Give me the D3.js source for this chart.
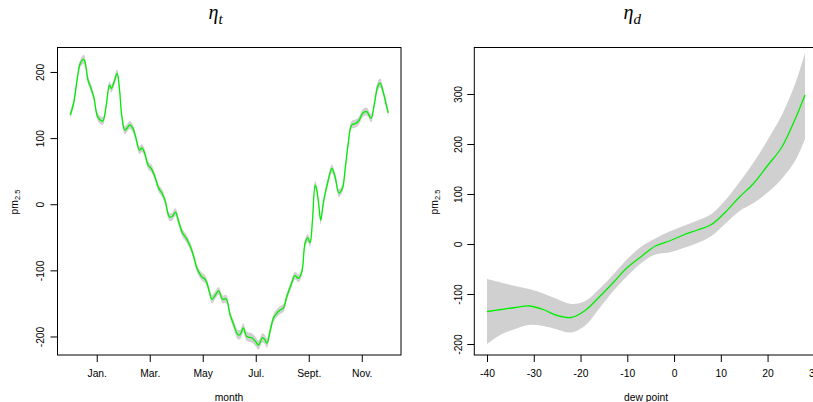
<!DOCTYPE html>
<html>
<head>
<meta charset="utf-8">
<script src="https://cdn.jsdelivr.net/npm/d3@7/dist/d3.min.js"></script>
<style>
  html, body { margin: 0; padding: 0; background: #fff; }
  svg { display: block; }
  .tick text, .lab { font-family: "Liberation Sans", Arial, sans-serif; font-size: 10.3px; fill: #000; }
  .ttl { font-family: "Liberation Serif", "DejaVu Serif", serif; font-style: italic; fill: #000; }
</style>
</head>
<body>
<svg id="chart" width="813" height="402"></svg>
<script>
// ---- seasonal effect (month of year) ----
const monthPos = [0.00,0.13,0.26,0.38,0.51,0.57,0.67,0.76,0.89,1.01,1.11,1.23,1.35,1.48,1.55,1.64,1.77,1.85,1.95,2.06,
  2.14,2.25,2.36,2.48,2.61,2.71,2.81,2.94,3.06,3.19,3.34,3.46,3.59,3.74,3.84,3.97,4.09,4.24,4.37,4.53,
  4.66,4.78,4.95,5.10,5.23,5.35,5.48,5.60,5.75,5.88,6.03,6.15,6.32,6.41,6.53,6.66,6.85,7.00,7.10,7.25,
  7.33,7.42,7.54,7.67,7.79,7.92,8.04,8.17,8.33,8.48,8.61,8.74,8.86,8.96,9.05,9.14,9.24,9.30,9.37,9.45,
  9.55,9.65,9.74,9.87,9.99,10.14,10.27,10.37,10.49,10.62,10.77,10.90,11.04,11.19,11.35,11.48,11.60,11.69,11.82,11.91,12.00];
const monthFit = [135,153,188,213,219,213,188,178,162,135,128,126,147,180,175,183,198,178,132,112,
  115,120,115,100,82,85,77,59,54,42,24,17,4,-19,-19,-12,-26,-44,-51,-64,
  -79,-97,-109,-114,-129,-144,-137,-131,-144,-143,-167,-180,-197,-197,-187,-200,-202,-208,-213,-202,
  -204,-210,-192,-172,-165,-160,-157,-140,-122,-108,-112,-102,-59,-51,-58,-24,29,22,2,-24,
  2,22,37,54,42,17,24,52,92,120,122,127,138,140,130,153,178,183,168,153,138];
const monthHalfWidth = [6,6,6,6,7,7,6,6,6,6,6,6,6,6,6,6,6,6,6,6,
  6,6,6,6,6,6,6,6,6,6,6,6,6,6,6,6,6,6,6,6,
  6,6,6,6,6,6,6,6,6,6,6,6,7,7,7,7,7,7,7,7,
  7,7,7,6,6,6,6,6,6,6,6,6,6,6,6,6,6,6,6,6,
  6,6,6,6,6,6,6,6,6,6,6,6,6,6,6,6,7,7,6,6,6];
const monthTicks = [1,3,5,7,9,11];
const monthTickLabels = ["Jan.","Mar.","May","Jul.","Sept.","Nov."];
const leftYTicks = [-200,-100,0,100,200];

// ---- dew point effect ----
const dewPoint = [-40,-37,-34,-31,-28,-25,-22,-19,-16,-13,-10,-7,-4,-1,2,5,8,11,14,17,20,23,26,28];
const dewFit   = [-135,-131,-127,-124,-131,-143,-147,-133,-106,-77,-47,-25,-4,6,18,28,39,64,94,121,157,193,252,298];
const dewLower = [-200,-181,-170,-162,-164,-171,-177,-163,-129,-94,-64,-38,-21,-17,-8,2,16,41,66,82,103,130,168,210];
const dewUpper = [-70,-77,-84,-90,-99,-110,-120,-114,-90,-61,-30,-5,11,25,36,47,60,88,124,163,208,257,323,382];
const dewTicks = [-40,-30,-20,-10,0,10,20,30];
const rightYTicks = [-200,-100,0,100,200,300];

const svg = d3.select("#chart");
const bandFill = "#d0d0d0";
const lineCol = "#00ee00";
const plain = d => String(d);   // hyphen-minus, as R prints it

function yLabel(x, y) {
  const t = svg.append("text").attr("class", "lab")
    .attr("transform", `translate(${x},${y}) rotate(-90)`)
    .attr("text-anchor", "middle");
  t.append("tspan").text("pm");
  t.append("tspan").attr("font-size", "7.5px").attr("dy", "2.5").text("2.5");
}

function panel(opt) {
  const { xs, ys, xTicks, xFmt, yTicks, yLabOff, xTitle, xTitlePos } = opt;
  const [x0, x1] = xs.range();
  const [yb, yt] = ys.range();

  const clipId = opt.id + "-clip";
  svg.append("clipPath").attr("id", clipId)
    .append("rect").attr("x", x0).attr("y", yt).attr("width", x1 - x0).attr("height", yb - yt);
  const g = svg.append("g").attr("clip-path", `url(#${clipId})`);

  g.append("path")
    .datum(opt.band)
    .attr("fill", bandFill)
    .attr("d", d3.area().curve(d3.curveCatmullRom)
      .x(d => xs(d.x)).y0(d => ys(d.lo)).y1(d => ys(d.hi)));

  g.append("path")
    .datum(opt.line)
    .attr("fill", "none")
    .attr("stroke", lineCol)
    .attr("stroke-width", 1.3)
    .attr("d", d3.line().curve(d3.curveCatmullRom).x(d => xs(d.x)).y(d => ys(d.y)));

  svg.append("rect")
    .attr("x", x0).attr("y", yt).attr("width", x1 - x0).attr("height", yb - yt)
    .attr("fill", "none").attr("stroke", "#000").attr("stroke-width", 1);

  const ax = svg.append("g").attr("transform", `translate(0,${yb})`)
    .call(d3.axisBottom(xs).tickValues(xTicks).tickFormat(xFmt).tickSize(7).tickSizeOuter(0));
  ax.select(".domain").remove();
  ax.selectAll(".tick line").attr("stroke", "#000");
  ax.selectAll(".tick text").attr("y", 22).attr("dy", null);

  const ay = svg.append("g").attr("transform", `translate(${x0},0)`)
    .call(d3.axisLeft(ys).tickValues(yTicks).tickFormat(plain).tickSize(7).tickSizeOuter(0));
  ay.select(".domain").remove();
  ay.selectAll(".tick line").attr("stroke", "#000");
  ay.selectAll(".tick text")
    .attr("x", null).attr("dy", null)
    .attr("text-anchor", "middle")
    .attr("transform", `translate(${-yLabOff},0) rotate(-90)`);

  svg.append("text").attr("class", "lab").attr("text-anchor", "middle")
    .attr("x", xTitlePos[0]).attr("y", xTitlePos[1]).text(xTitle);
}

// left panel: month
const xM = d3.scaleLinear().domain([-0.48, 12.48]).range([57.5, 401]);
const yM = d3.scaleLinear().domain([-228, 237]).range([355, 47.5]);
panel({
  id: "month", xs: xM, ys: yM,
  xTicks: monthTicks, xFmt: (d, i) => monthTickLabels[i],
  yTicks: leftYTicks, yLabOff: 14,
  xTitle: "month", xTitlePos: [229, 400.5],
  line: monthPos.map((x, i) => ({ x, y: monthFit[i] })),
  band: monthPos.map((x, i) => ({ x, lo: monthFit[i] - monthHalfWidth[i], hi: monthFit[i] + monthHalfWidth[i] }))
});

// right panel: dew point
const xD = d3.scaleLinear().domain([-42.72, 30.72]).range([474.3, 817.7]);
const yD = d3.scaleLinear().domain([-222, 393]).range([355, 47.5]);
panel({
  id: "dew", xs: xD, ys: yD,
  xTicks: dewTicks, xFmt: plain,
  yTicks: rightYTicks, yLabOff: 12,
  xTitle: "dew point", xTitlePos: [646, 400.5],
  line: dewPoint.map((x, i) => ({ x, y: dewFit[i] })),
  band: dewPoint.map((x, i) => ({ x, lo: dewLower[i], hi: dewUpper[i] }))
});

yLabel(17.5, 202);
yLabel(437.5, 202);

// panel titles
function title(x, sub) {
  const t = svg.append("text").attr("class", "ttl").attr("x", x).attr("y", 18.5).attr("font-size", "20px");
  t.append("tspan").text("η");
  t.append("tspan").attr("font-size", "15px").attr("dy", "5").text(sub);
}
title(208.5, "t");
title(623.5, "d");
</script>
</body>
</html>
